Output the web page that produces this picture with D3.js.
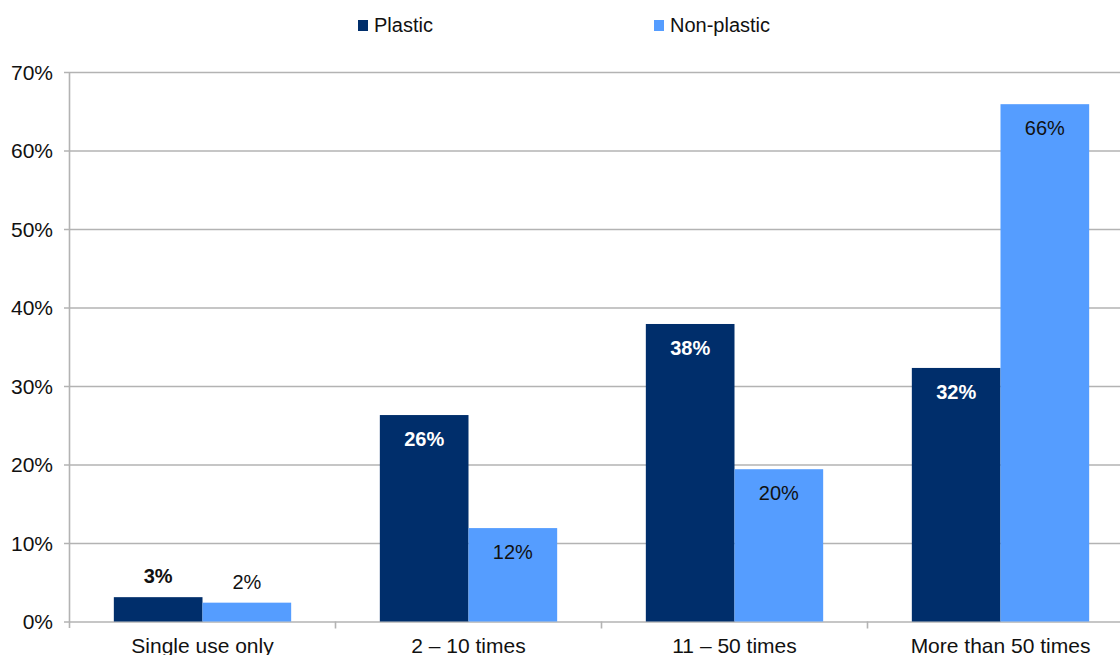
<!DOCTYPE html>
<html>
<head>
<meta charset="utf-8">
<script src="https://cdn.jsdelivr.net/npm/d3@7"></script>
<style>
  html, body { margin: 0; padding: 0; background: #fff; }
  svg { display: block; font-family: "Liberation Sans", Arial, sans-serif; }
</style>
</head>
<body>
<svg id="chart" width="1120" height="655"></svg>
<script>
const categories = ["Single use only", "2 \u2013 10 times", "11 \u2013 50 times", "More than 50 times"];
const seriesNames = ["Plastic", "Non-plastic"];
const plastic = [3.1, 26.3, 37.9, 32.3];
const nonPlastic = [2.4, 11.9, 19.4, 65.9];
const plasticLabels = ["3%", "26%", "38%", "32%"];
const nonPlasticLabels = ["2%", "12%", "20%", "66%"];
const yTicks = [0, 10, 20, 30, 40, 50, 60, 70];

const colors = ["#002e6b", "#559dff"];
const svg = d3.select("#chart");
const x0 = 69.5, bandW = 266;
const x = d3.scaleBand().domain(categories).range([x0, x0 + bandW * categories.length]).paddingInner(0).paddingOuter(0);
const xs = d3.scaleBand().domain(seriesNames).range([bandW / 6, bandW * 5 / 6]).padding(0);
const y = d3.scaleLinear().domain([0, 70]).range([621.5, 72]);

// gridlines
const yAxis = d3.axisLeft(y).tickValues(yTicks).tickFormat(d => d + "%").tickSize(-(1120 - 64 + 10)).tickPadding(12);
const gy = svg.append("g").attr("transform", `translate(${64},0)`).call(yAxis);
gy.select(".domain").remove();
gy.selectAll(".tick line").attr("stroke", "#b3b3b3").attr("stroke-width", 1.6).attr("x1", 0).attr("x2", 1120);
gy.selectAll(".tick text").attr("fill", "#111").style("font-size", "21px").attr("x", -11).attr("dy", "0.35em");

// vertical axis line
svg.append("line").attr("x1", x0).attr("x2", x0).attr("y1", 72).attr("y2", 628)
  .attr("stroke", "#b3b3b3").attr("stroke-width", 1.6);

// x axis
const xAxis = d3.axisBottom(x).tickSize(0).tickPadding(0);
const gx = svg.append("g").attr("transform", `translate(0,${y(0)})`).call(xAxis);
gx.select(".domain").remove();
gx.selectAll(".tick text").attr("fill", "#111").style("font-size", "21px").attr("y", 31).attr("dy", 0);
// category separator ticks
svg.selectAll(".sep").data(categories.slice(1)).enter().append("line")
  .attr("x1", d => x(d)).attr("x2", d => x(d)).attr("y1", y(0)).attr("y2", y(0) + 7)
  .attr("stroke", "#b3b3b3").attr("stroke-width", 1.6);

// bars
const series = [plastic, nonPlastic];
const labels = [plasticLabels, nonPlasticLabels];
series.forEach((vals, si) => {
  const g = svg.append("g");
  g.selectAll("rect").data(vals).enter().append("rect")
    .attr("x", (d, i) => x(categories[i]) + xs(seriesNames[si]))
    .attr("width", xs.bandwidth())
    .attr("y", d => y(d))
    .attr("height", d => y(0) - y(d))
    .attr("fill", colors[si]);
  g.selectAll("text").data(vals).enter().append("text")
    .attr("x", (d, i) => x(categories[i]) + xs(seriesNames[si]) + xs.bandwidth() / 2)
    .attr("y", d => (y(0) - y(d) > 40) ? y(d) + 31 : y(d) - 14)
    .attr("text-anchor", "middle")
    .style("font-size", "20px")
    .style("font-weight", si === 0 ? "bold" : "normal")
    .attr("fill", d => (si === 0 && y(0) - y(d) > 40) ? "#fff" : "#111")
    .text((d, i) => labels[si][i]);
});

// legend
const legendX = [358, 654];
seriesNames.forEach((name, i) => {
  svg.append("rect").attr("x", legendX[i]).attr("y", 20).attr("width", 10).attr("height", 11).attr("fill", colors[i]);
  svg.append("text").attr("x", legendX[i] + 16).attr("y", 32).style("font-size", "20px").attr("fill", "#111").text(name);
});
</script>
</body>
</html>
